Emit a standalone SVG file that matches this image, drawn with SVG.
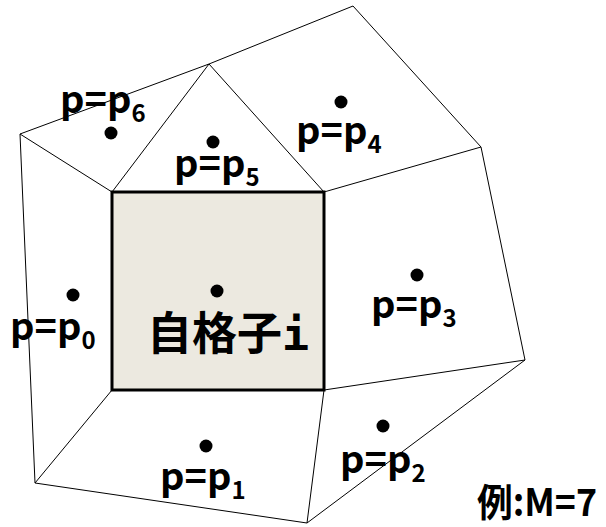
<svg xmlns="http://www.w3.org/2000/svg" width="606" height="527" viewBox="0 0 606 527">
<style>
.e{stroke:#000;stroke-width:1;fill:none}
.dot{fill:#000}
.lbl{font-family:"Noto Sans CJK JP","Noto Sans",sans-serif;font-weight:bold;font-size:38px;fill:#000}
.sub{font-size:24px}
.cell{fill:#ECE9E0;stroke:#000;stroke-width:3}
.big{font-family:"Noto Sans CJK JP",sans-serif;font-weight:bold;font-size:45px;fill:#000}
.mono{font-family:"DejaVu Sans Mono",monospace}
</style>
<rect width="606" height="527" fill="#fff"/>
<g id="edges">
<line class="e" x1="20" y1="134" x2="209" y2="64"/>
<line class="e" x1="209" y1="64" x2="353" y2="6"/>
<line class="e" x1="353" y1="6" x2="481" y2="147"/>
<line class="e" x1="481" y1="147" x2="525" y2="360"/>
<line class="e" x1="525" y1="360" x2="307" y2="523"/>
<line class="e" x1="307" y1="523" x2="35" y2="483"/>
<line class="e" x1="35" y1="483" x2="20" y2="134"/>
<line class="e" x1="20" y1="134" x2="112" y2="192"/>
<line class="e" x1="209" y1="64" x2="112" y2="192"/>
<line class="e" x1="209" y1="64" x2="324" y2="192"/>
<line class="e" x1="481" y1="147" x2="324" y2="192"/>
<line class="e" x1="525" y1="360" x2="324" y2="390"/>
<line class="e" x1="307" y1="523" x2="324" y2="390"/>
<line class="e" x1="35" y1="483" x2="112" y2="390"/>
</g>
<g id="cell-i">
<rect class="cell" x="112" y="192" width="212" height="198"/>
<circle class="dot" cx="217" cy="291" r="6.5"/>
<text class="big" x="147" y="350">自格子<tspan class="mono">i</tspan></text>
</g>
<g id="cell-p0">
<circle class="dot" cx="73" cy="295" r="6.5"/>
<text class="lbl" x="10" y="340">p=p<tspan class="sub" dy="9">0</tspan></text>
</g>
<g id="cell-p1">
<circle class="dot" cx="206" cy="446" r="6.5"/>
<text class="lbl" x="160" y="490">p=p<tspan class="sub" dy="9">1</tspan></text>
</g>
<g id="cell-p2">
<circle class="dot" cx="383" cy="426" r="6.5"/>
<text class="lbl" x="340" y="473">p=p<tspan class="sub" dy="9">2</tspan></text>
</g>
<g id="cell-p3">
<circle class="dot" cx="417" cy="275" r="6.5"/>
<text class="lbl" x="371" y="318">p=p<tspan class="sub" dy="9">3</tspan></text>
</g>
<g id="cell-p4">
<circle class="dot" cx="341" cy="102" r="6.5"/>
<text class="lbl" x="296" y="144">p=p<tspan class="sub" dy="9">4</tspan></text>
</g>
<g id="cell-p5">
<circle class="dot" cx="213" cy="142" r="6.5"/>
<text class="lbl" x="174" y="177">p=p<tspan class="sub" dy="9">5</tspan></text>
</g>
<g id="cell-p6">
<circle class="dot" cx="111" cy="133" r="6.5"/>
<text class="lbl" x="60" y="113">p=p<tspan class="sub" dy="9">6</tspan></text>
</g>
<g id="note">
<text class="lbl" x="477" y="516" font-size="40" textLength="120" lengthAdjust="spacingAndGlyphs">例:M=7</text>
</g>
</svg>
